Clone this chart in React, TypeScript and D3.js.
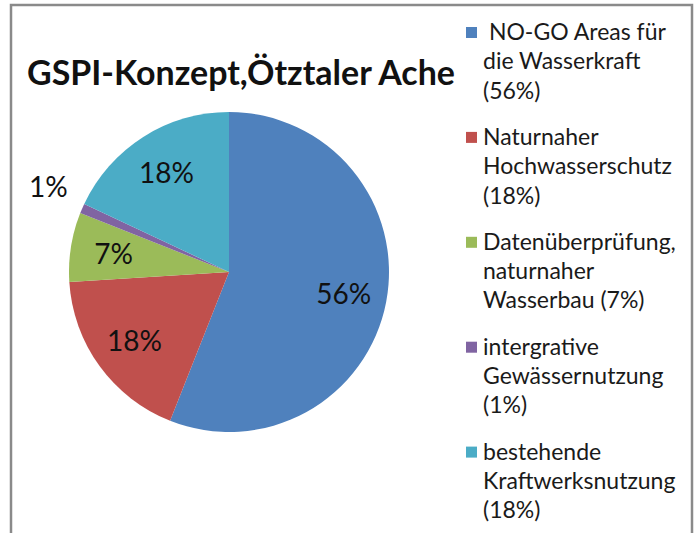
import * as d3 from "d3";
import { useEffect, useRef } from "react";

const title = "GSPI-Konzept,Ötztaler Ache";
const categories = [
  "NO-GO Areas für die Wasserkraft",
  "Naturnaher Hochwasserschutz",
  "Datenüberprüfung, naturnaher Wasserbau",
  "intergrative Gewässernutzung",
  "bestehende Kraftwerksnutzung",
];
const values = [56, 18, 7, 1, 18];
const colors = ["#4f81bd", "#c0504d", "#9bbb59", "#8064a2", "#4bacc6"];
// legend text as wrapped in the original
const legendLines = [
  [" NO-GO Areas für", "die Wasserkraft", "(56%)"],
  ["Naturnaher", "Hochwasserschutz", "(18%)"],
  ["Datenüberprüfung,", "naturnaher", "Wasserbau (7%)"],
  ["intergrative", "Gewässernutzung", "(1%)"],
  ["bestehende", "Kraftwerksnutzung", "(18%)"],
];

export default function App() {
  const ref = useRef<SVGSVGElement>(null);

  useEffect(() => {
    if (!ref.current) return;
    const svg = d3.select(ref.current);
    svg.selectAll("*").remove();

    const width = 700,
      height = 533;
    const font = "Lato, 'Noto Sans', sans-serif";
    svg.attr("width", width).attr("height", height);

    // chart frame
    svg
      .append("rect")
      .attr("x", 11)
      .attr("y", 5)
      .attr("width", 681)
      .attr("height", 560)
      .attr("fill", "#fff")
      .attr("stroke", "#8a8a8a")
      .attr("stroke-width", 2.5);

    svg
      .append("text")
      .attr("x", 27)
      .attr("y", 85)
      .attr("font-family", font)
      .attr("font-weight", "bold")
      .attr("font-size", "34px")
      .attr("fill", "#111")
      .attr("textLength", 428)
      .attr("lengthAdjust", "spacingAndGlyphs")
      .text(title);

    const cx = 229,
      cy = 272,
      r = 160;
    const total = d3.sum(values);
    const pie = d3
      .pie<number>()
      .sort(null)
      .value((d) => d);
    const arcs = pie(values);
    const arc = d3.arc<d3.PieArcDatum<number>>().innerRadius(0).outerRadius(r);
    const labelArc = d3
      .arc<d3.PieArcDatum<number>>()
      .innerRadius(r * 0.73)
      .outerRadius(r * 0.73);
    const outerArc = d3
      .arc<d3.PieArcDatum<number>>()
      .innerRadius(r * 1.23)
      .outerRadius(r * 1.23);

    const g = svg.append("g").attr("transform", `translate(${cx},${cy})`);
    g.selectAll("path")
      .data(arcs)
      .enter()
      .append("path")
      .attr("d", arc)
      .attr("fill", (d, i) => colors[i]);

    const fmt = d3.format(".0%");
    g.selectAll("text.lbl")
      .data(arcs)
      .enter()
      .append("text")
      .attr("class", "lbl")
      .attr("transform", (d) => {
        const small = d.data / total < 0.03;
        const [x, y] = (small ? outerArc : labelArc).centroid(d);
        return `translate(${x},${y})`;
      })
      .attr("text-anchor", "middle")
      .attr("dy", (d) => (d.data / total < 0.03 ? "0.1em" : "0.36em"))
      .attr("font-family", font)
      .attr("font-size", "28px")
      .attr("fill", "#111")
      .text((d) => fmt(d.data / total));

    // legend
    const lx = 466,
      lh = 29.3,
      gap = 17;
    let y0 = 40;
    const lg = svg.append("g");
    legendLines.forEach((lines, i) => {
      lg.append("rect")
        .attr("x", lx)
        .attr("y", y0 - 13)
        .attr("width", 11)
        .attr("height", 11)
        .attr("fill", colors[i]);
      const t = lg
        .append("text")
        .attr("font-family", font)
        .attr("font-size", "23px")
        .attr("fill", "#1a1a1a")
        .style("white-space", "pre");
      t.append("title").text(categories[i]);
      lines.forEach((line, j) => {
        t.append("tspan")
          .attr("x", 483)
          .attr("y", y0 + j * lh)
          .text(line);
      });
      y0 += lines.length * lh + gap;
    });
  }, []);

  return (
    <svg
      ref={ref}
      style={{ position: "absolute", left: 0, top: 0, display: "block" }}
    />
  );
}
